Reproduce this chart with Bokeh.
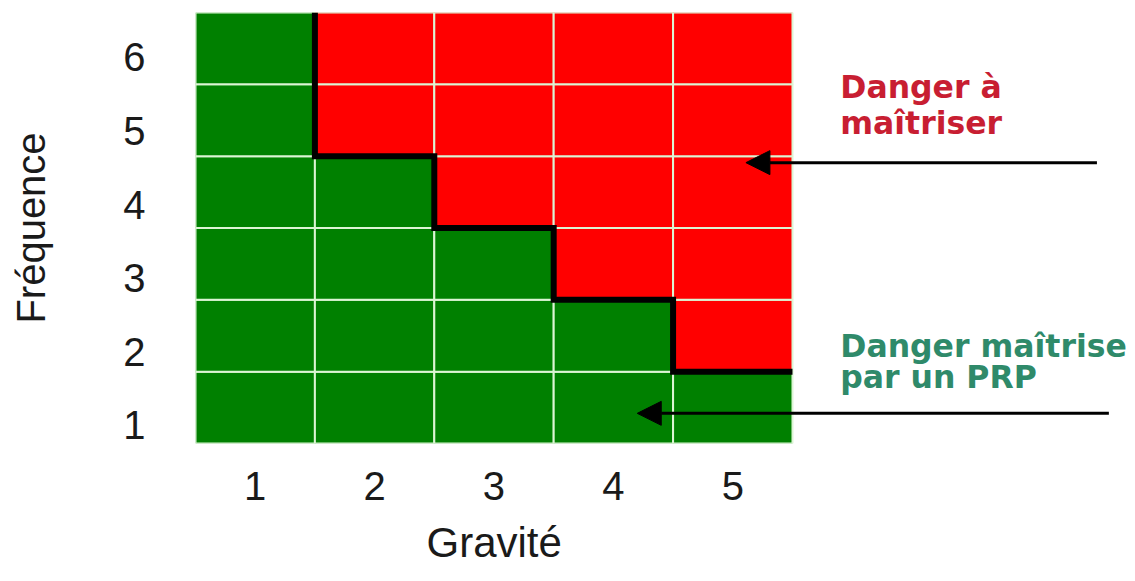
from bokeh.plotting import figure
from bokeh.models import Arrow, NormalHead, FixedTicker, LinearAxis, Range1d, Title
from bokeh.core.properties import value
from bokeh.embed import file_html
from bokeh.resources import INLINE

# ---- data ----
gravite = [1, 2, 3, 4, 5]
frequence = [1, 2, 3, 4, 5, 6]
# highest frequency still "maîtrisé par un PRP" (green) for each gravity
limite_verte = [6, 4, 3, 2, 1]
x_tick_labels = ["1", "2", "3", "4", "5"]
y_tick_labels = ["1", "2", "3", "4", "5", "6"]
label_rouge = ["Danger à", "maîtriser"]
label_vert = ["Danger maîtrise", "par un PRP"]

GREEN = "#008000"
RED = "#ff0000"
GRID = "#dcf5d4"

W, H = 1127, 581
p = figure(width=W, height=H, output_backend="svg", toolbar_location=None,
           x_range=(0.5, 8.306), y_range=(0.5, 6.5), y_axis_location=None,
           min_border_left=195, min_border_top=12, min_border_right=0,
           min_border_bottom=138)
p.outline_line_color = None
p.grid.visible = False
p.background_fill_color = "white"

# the frequency labels in the original are spaced slightly wider than the rows
p.extra_y_ranges = {"lab": Range1d(0.755, 6.611)}
yax = LinearAxis(y_range_name="lab")
p.add_layout(yax, "left")

xs, ys, cols = [], [], []
for g, lim in zip(gravite, limite_verte):
    for f in frequence:
        xs.append(g)
        ys.append(f)
        cols.append(RED if f > lim else GREEN)
p.rect(x=xs, y=ys, width=1, height=1, fill_color=cols, line_color=GRID, line_width=2)

# step boundary
sx, sy = [], []
top = frequence[-1] + 0.5
for g, lim in zip(gravite, limite_verte):
    if lim >= frequence[-1]:
        continue
    if not sx:
        sx.append(g - 0.5); sy.append(top)
    sx.append(g - 0.5); sy.append(lim + 0.5)
    sx.append(g + 0.5); sy.append(lim + 0.5)
p.line(sx, sy, line_color="black", line_width=6, line_join="miter")

# arrows
p.add_layout(Arrow(end=NormalHead(size=24, fill_color="black", line_color="black"),
                   x_start=8.05, y_start=4.41, x_end=5.11, y_end=4.41,
                   line_color="black", line_width=3))
p.add_layout(Arrow(end=NormalHead(size=24, fill_color="black", line_color="black"),
                   x_start=8.15, y_start=0.92, x_end=4.20, y_end=0.92,
                   line_color="black", line_width=3))

# annotation texts
p.text(x=[5.90, 5.90], y=[5.456, 4.955], text=label_rouge,
       text_color="#c81e32", text_font=value("DejaVu Sans"), text_font_style="bold",
       text_font_size="31.5px", text_baseline="alphabetic", text_align="left")
p.text(x=[5.90, 5.90], y=[1.864, 1.419], text=label_vert,
       text_color="#2f8a6a", text_font=value("DejaVu Sans"), text_font_style="bold",
       text_font_size="31.5px", text_baseline="alphabetic", text_align="left")

# axes
p.xaxis.ticker = FixedTicker(ticks=gravite)
p.xaxis.major_label_overrides = {g: t for g, t in zip(gravite, x_tick_labels)}
yax.ticker = FixedTicker(ticks=frequence)
yax.major_label_overrides = {f: t for f, t in zip(frequence, y_tick_labels)}
for ax in (p.xaxis[0], yax):
    ax.axis_line_color = None
    ax.major_tick_line_color = None
    ax.minor_tick_line_color = None
    ax.major_tick_out = 0
    ax.major_tick_in = 0
    ax.major_label_text_font = "Liberation Sans"
    ax.major_label_text_font_size = "40px"
    ax.major_label_text_color = "#1a1a1a"
    ax.axis_label_text_font = "Liberation Sans"
    ax.axis_label_text_font_size = "40px"
    ax.axis_label_text_font_style = "normal"
    ax.axis_label_text_color = "#1a1a1a"
p.xaxis.major_label_standoff = 28
yax.major_label_standoff = 50
yax.axis_label = "Fréquence"
yax.axis_label_standoff = 67

# x-axis title, centred under the grid (column 3)
p.add_layout(Title(text="Gravité", align="left", offset=231, standoff=29,
                   text_font="Liberation Sans", text_font_size="42px",
                   text_font_style="normal", text_color="#1a1a1a"), "below")

open("out.html", "w").write(file_html(p, INLINE))
